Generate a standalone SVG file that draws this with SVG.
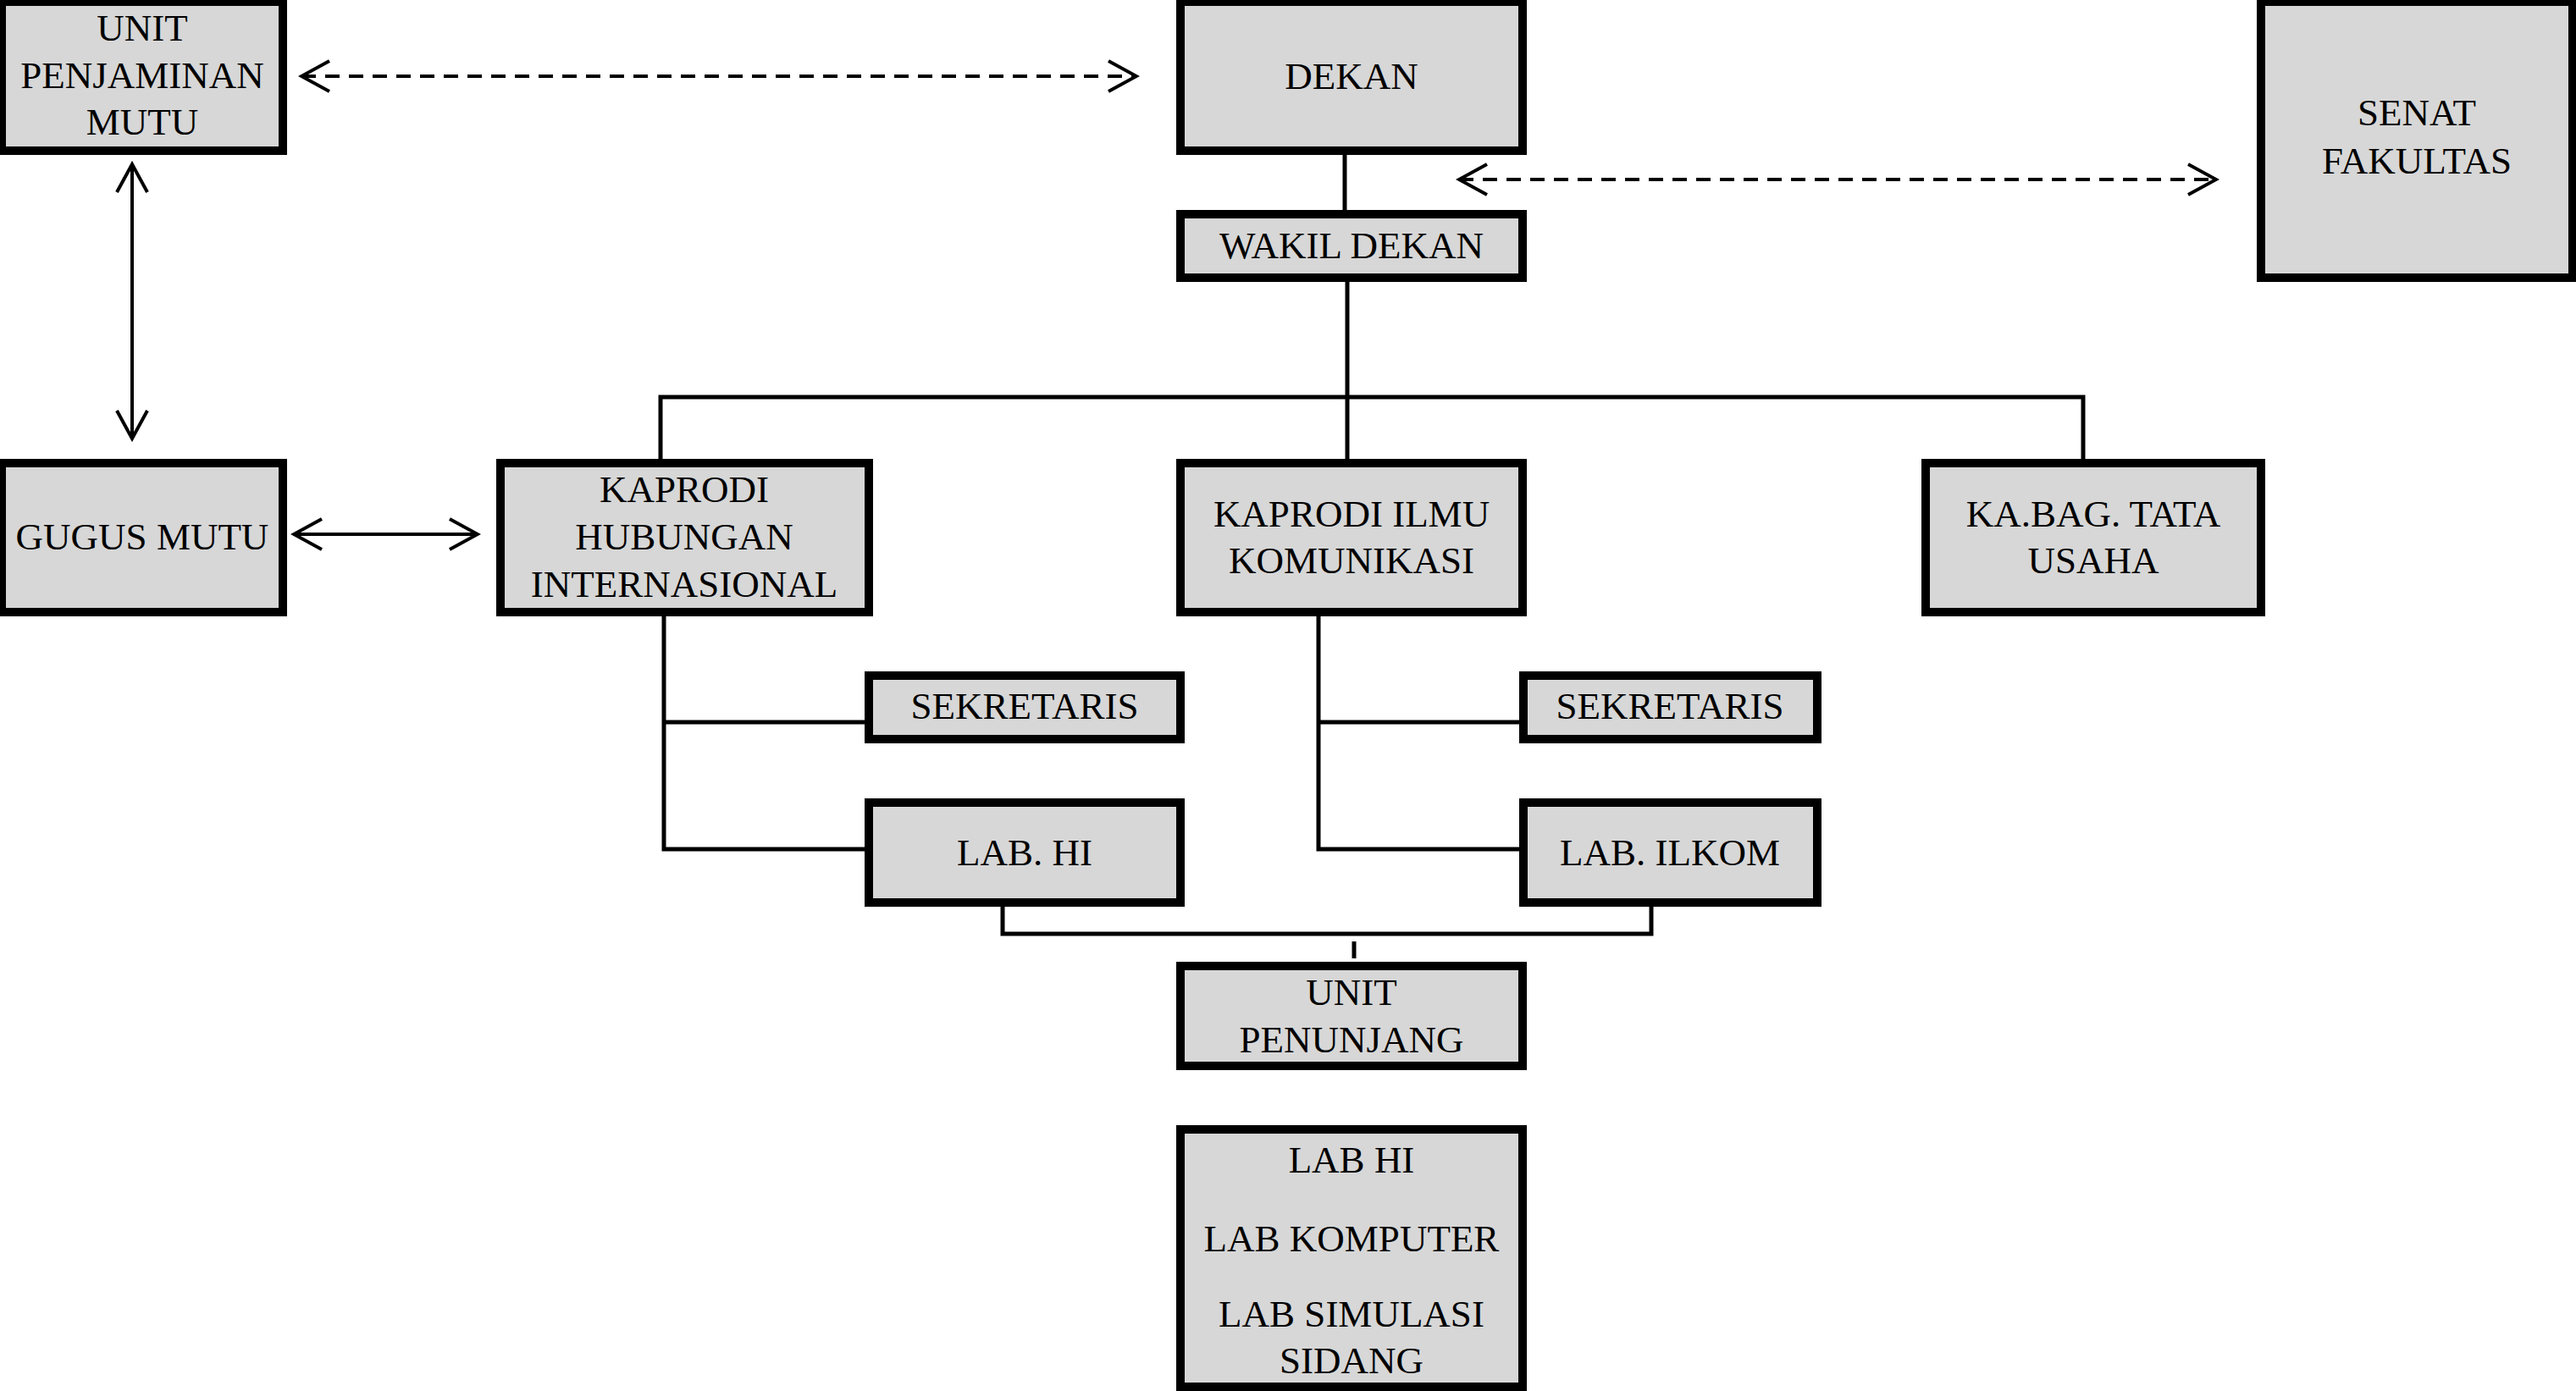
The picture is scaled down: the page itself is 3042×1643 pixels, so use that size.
<svg xmlns="http://www.w3.org/2000/svg" width="3042" height="1643" viewBox="0 0 3042 1643">
<style>
.box{fill:#d7d7d7;stroke:#000;stroke-width:10}
.t{font-family:"Liberation Serif","Times New Roman",serif;font-size:45px;fill:#000;text-anchor:middle}
.ln{stroke:#000;stroke-width:5;fill:none}
.ar{stroke:#000;stroke-width:4;fill:none}
.da{stroke:#000;stroke-width:4;fill:none;stroke-dasharray:17 11}
</style>
<defs>
<marker id="chev" markerUnits="userSpaceOnUse" markerWidth="44" markerHeight="44" viewBox="-40 -22 44 44" refX="0" refY="0" orient="auto-start-reverse">
<path d="M -33 -18 L 0 0 L -33 18" fill="none" stroke="#000" stroke-width="4" stroke-dasharray="none"/>
</marker>
</defs>
<rect width="3042" height="1643" fill="#fff"/>
<g id="connectors">
<line class="da" x1="356" y1="90" x2="1342" y2="90" marker-start="url(#chev)" marker-end="url(#chev)"/>
<line class="da" x1="1723" y1="212" x2="2617" y2="212" marker-start="url(#chev)" marker-end="url(#chev)"/>
<line class="ar" x1="156" y1="194" x2="156" y2="518" marker-start="url(#chev)" marker-end="url(#chev)"/>
<line class="ar" x1="347" y1="631" x2="564" y2="631" marker-start="url(#chev)" marker-end="url(#chev)"/>
<line class="ln" x1="1588" y1="178" x2="1588" y2="250"/>
<line class="ln" x1="1591" y1="330" x2="1591" y2="545"/>
<polyline class="ln" points="780,545 780,469 2460,469 2460,545"/>
<polyline class="ln" points="784,725 784,1003 1022,1003"/>
<line class="ln" x1="784" y1="853" x2="1022" y2="853"/>
<polyline class="ln" points="1557,725 1557,1003 1795,1003"/>
<line class="ln" x1="1557" y1="853" x2="1795" y2="853"/>
<polyline class="ln" points="1184,1068 1184,1103 1950,1103 1950,1068"/>
<line class="ln" x1="1599" y1="1112" x2="1599" y2="1132"/>
</g>
<g id="upm"><rect class="box" x="2" y="2" width="332" height="176"/>
<text class="t" x="168" y="48">UNIT</text><text class="t" x="168" y="104">PENJAMINAN</text><text class="t" x="168" y="159">MUTU</text></g>
<g id="dekan"><rect class="box" x="1394" y="2" width="404" height="176"/>
<text class="t" x="1596" y="105">DEKAN</text></g>
<g id="senat"><rect class="box" x="2670" y="2" width="368" height="326"/>
<text class="t" x="2854" y="148">SENAT</text><text class="t" x="2854" y="205">FAKULTAS</text></g>
<g id="wakil"><rect class="box" x="1394" y="253" width="404" height="75"/>
<text class="t" x="1596" y="305">WAKIL DEKAN</text></g>
<g id="gugus"><rect class="box" x="2" y="547" width="332" height="176"/>
<text class="t" x="168" y="649">GUGUS MUTU</text></g>
<g id="kaprodi-hi"><rect class="box" x="591" y="547" width="435" height="176"/>
<text class="t" x="808" y="593">KAPRODI</text><text class="t" x="808" y="649">HUBUNGAN</text><text class="t" x="808" y="705">INTERNASIONAL</text></g>
<g id="kaprodi-ilkom"><rect class="box" x="1394" y="547" width="404" height="176"/>
<text class="t" x="1596" y="622">KAPRODI ILMU</text><text class="t" x="1596" y="677">KOMUNIKASI</text></g>
<g id="kabag"><rect class="box" x="2274" y="547" width="396" height="176"/>
<text class="t" x="2472" y="622">KA.BAG. TATA</text><text class="t" x="2472" y="677">USAHA</text></g>
<g id="sekretaris-hi"><rect class="box" x="1026" y="798" width="368" height="75"/>
<text class="t" x="1210" y="849">SEKRETARIS</text></g>
<g id="sekretaris-ilkom"><rect class="box" x="1799" y="798" width="347" height="75"/>
<text class="t" x="1972" y="849">SEKRETARIS</text></g>
<g id="lab-hi"><rect class="box" x="1026" y="948" width="368" height="118"/>
<text class="t" x="1210" y="1022">LAB. HI</text></g>
<g id="lab-ilkom"><rect class="box" x="1799" y="948" width="347" height="118"/>
<text class="t" x="1972" y="1022">LAB. ILKOM</text></g>
<g id="unit-penunjang"><rect class="box" x="1394" y="1141" width="404" height="118"/>
<text class="t" x="1596" y="1187">UNIT</text><text class="t" x="1596" y="1243">PENUNJANG</text></g>
<g id="labs"><rect class="box" x="1394" y="1334" width="404" height="304"/>
<text class="t" x="1596" y="1385">LAB HI</text><text class="t" x="1596" y="1478">LAB KOMPUTER</text><text class="t" x="1596" y="1567">LAB SIMULASI</text><text class="t" x="1596" y="1622">SIDANG</text></g>
</svg>
